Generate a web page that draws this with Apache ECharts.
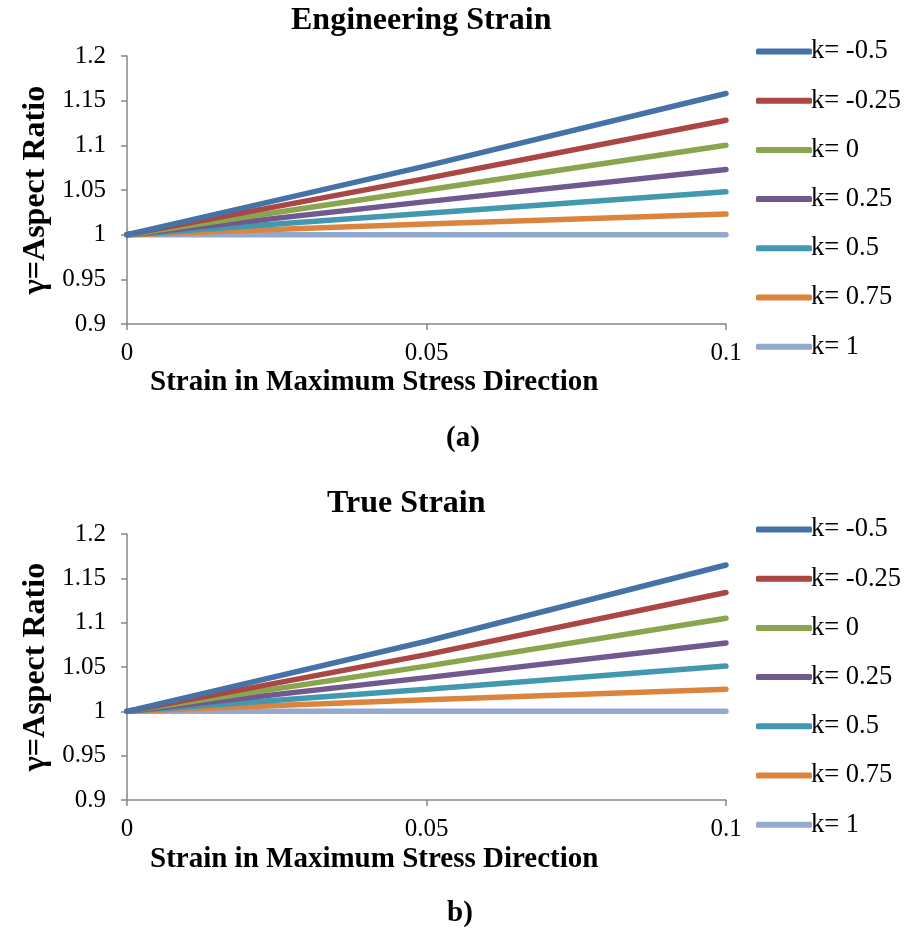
<!DOCTYPE html>
<html><head><meta charset="utf-8">
<script src="https://cdn.jsdelivr.net/npm/echarts@6/dist/echarts.min.js"></script>
<style>html,body{margin:0;padding:0;background:#fff}#c{width:909px;height:935px}</style>
</head><body><div id="c"></div>
<script>
const strainX = [0, 0.05, 0.1];
const seriesNames = ['k= -0.5','k= -0.25','k= 0','k= 0.25','k= 0.5','k= 0.75','k= 1'];
const colors = ['#4572A7','#AA4643','#89A54E','#71588F','#4198AF','#DB843D','#93A9CF'];
// Engineering strain (a)
const engKm050 = [1, 1.077, 1.158];
const engKm025 = [1, 1.063, 1.128];
const engK000  = [1, 1.050, 1.100];
const engK025  = [1, 1.037, 1.073];
const engK050  = [1, 1.024, 1.048];
const engK075  = [1, 1.012, 1.023];
const engK100  = [1, 1.000, 1.000];
// True strain (b)
const trueKm050 = [1, 1.079, 1.165];
const trueKm025 = [1, 1.064, 1.134];
const trueK000  = [1, 1.051, 1.105];
const trueK025  = [1, 1.038, 1.077];
const trueK050  = [1, 1.025, 1.051];
const trueK075  = [1, 1.013, 1.025];
const trueK100  = [1, 1.000, 1.000];

const engSets = [engKm050, engKm025, engK000, engK025, engK050, engK075, engK100];
const trueSets = [trueKm050, trueKm025, trueK000, trueK025, trueK050, trueK075, trueK100];

const FONT = '"Liberation Serif","Times New Roman",serif';
const axisColor = '#868686';

function xAxisDef(gi){
  return {type:'value', gridIndex:gi, min:0, max:0.1, interval:0.05,
    axisLine:{lineStyle:{color:axisColor, width:1.5}},
    axisTick:{show:true, inside:false, length:6, lineStyle:{color:axisColor, width:1.5}},
    splitLine:{show:false},
    axisLabel:{color:'#000', fontFamily:FONT, fontSize:25, margin:17,
      formatter: v => String(+v.toFixed(2))}};
}
function yAxisDef(gi){
  return {type:'value', gridIndex:gi, min:0.9, max:1.2, interval:0.05,
    name:'γ=Aspect Ratio', nameLocation:'middle', nameGap:68, nameRotate:90,
    nameTextStyle:{color:'#000', fontFamily:FONT, fontSize:32, fontWeight:'bold'},
    axisLine:{show:true, lineStyle:{color:axisColor, width:1.5}},
    axisTick:{show:true, length:6, lineStyle:{color:axisColor, width:1.5}},
    splitLine:{show:false},
    axisLabel:{color:'#000', fontFamily:FONT, fontSize:25, margin:21,
      formatter: v => String(+v.toFixed(2))}};
}
function mkSeries(sets, gi){
  return sets.map((arr, i) => ({
    name: seriesNames[i], type:'line', xAxisIndex:gi, yAxisIndex:gi,
    data: strainX.map((x, j) => [x, arr[j]]),
    showSymbol:false, symbol:'none', z: 10 - i,
    lineStyle:{color:colors[i], width:5.5, cap:'round'},
    itemStyle:{color:colors[i]}
  }));
}
function legendDef(top){
  return {orient:'vertical', left:751, top:top, itemWidth:56, itemHeight:6, itemGap:22.2,
    icon:'roundRect', data:seriesNames,
    textStyle:{color:'#000', fontFamily:FONT, fontSize:26.5, padding:[0,0,0,-6]}};
}
const chart = echarts.init(document.getElementById('c'));
chart.setOption({
  backgroundColor:'#fff',
  animation:false,
  grid:[
    {left:127, right:183, top:56, height:268},
    {left:127, right:183, top:534, height:266}
  ],
  xAxis:[xAxisDef(0), xAxisDef(1)],
  yAxis:[yAxisDef(0), yAxisDef(1)],
  legend:[legendDef(33), legendDef(511)],
  graphic:[
    {type:'text', top:5, left:291, style:{text:'Engineering Strain', fill:'#000', font:'bold 32px '+FONT}},
    {type:'text', top:368, left:150, style:{text:'Strain in Maximum Stress Direction', fill:'#000', font:'bold 29px '+FONT}},
    {type:'text', top:424, left:446, style:{text:'(a)', fill:'#000', font:'bold 29px '+FONT}},
    {type:'text', top:488, left:327, style:{text:'True Strain', fill:'#000', font:'bold 32px '+FONT}},
    {type:'text', top:845, left:150, style:{text:'Strain in Maximum Stress Direction', fill:'#000', font:'bold 29px '+FONT}},
    {type:'text', top:899, left:447, style:{text:'b)', fill:'#000', font:'bold 29px '+FONT}}
  ],
  series:[...mkSeries(engSets, 0), ...mkSeries(trueSets, 1)]
});
</script>
</body></html>
